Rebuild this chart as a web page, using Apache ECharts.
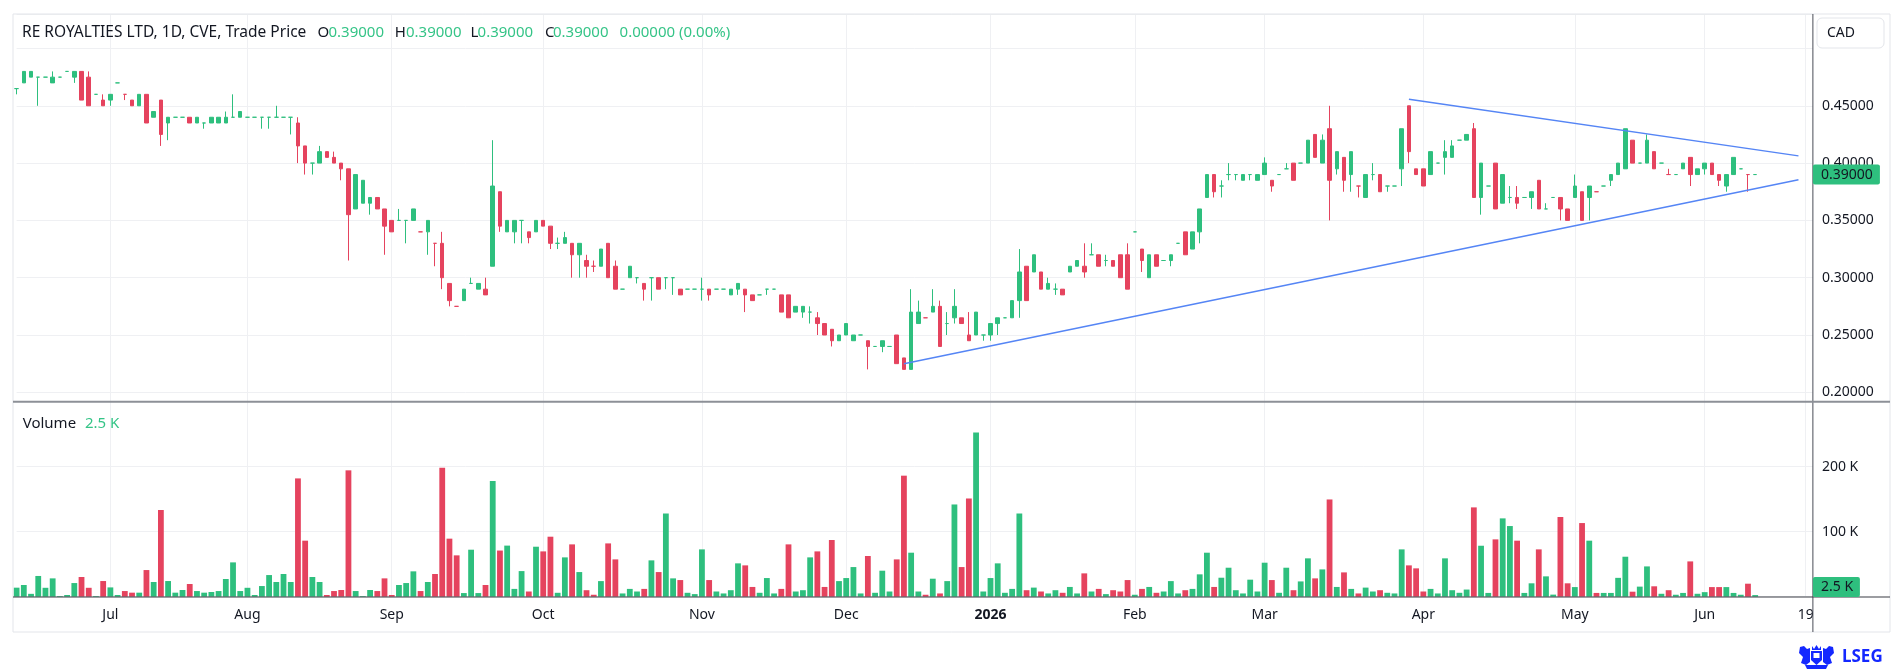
<!DOCTYPE html>
<html><head><meta charset="utf-8">
<script src="https://cdn.jsdelivr.net/npm/echarts@6/dist/echarts.min.js"></script>
<style>html,body{margin:0;padding:0;background:#fff}#c{width:1903px;height:671px}</style>
</head><body><div id="c"></div>
<script>
// ---- data ----
// one row per daily bar: [open, high, low, close]
const ohlc = [
[.465,.465,.46,.465],[.47,.48,.47,.48],[.475,.48,.475,.48],[.475,.475,.45,.475],[.475,.475,.475,.475],
[.47,.48,.47,.475],[.475,.475,.475,.475],[.48,.48,.48,.48],[.475,.48,.47,.48],[.48,.48,.455,.455],
[.475,.48,.45,.45],[.46,.46,.46,.46],[.455,.46,.45,.45],[.455,.46,.45,.46],[.47,.47,.47,.47],
[.46,.46,.455,.46],[.455,.455,.45,.45],[.45,.46,.45,.46],[.46,.46,.435,.435],[.44,.445,.44,.445],
[.455,.455,.415,.425],[.435,.44,.42,.44],[.44,.44,.44,.44],[.44,.44,.44,.44],[.44,.44,.435,.435],
[.435,.44,.435,.44],[.435,.435,.43,.435],[.435,.44,.435,.44],[.435,.44,.435,.44],[.435,.445,.435,.44],
[.44,.46,.44,.44],[.44,.445,.44,.445],[.44,.44,.44,.44],[.44,.44,.44,.44],[.44,.44,.43,.44],
[.44,.44,.43,.44],[.44,.45,.44,.44],[.44,.44,.44,.44],[.44,.44,.425,.44],[.435,.44,.40,.415],
[.415,.415,.39,.40],[.40,.40,.39,.40],[.40,.415,.40,.41],[.41,.41,.405,.405],[.405,.41,.40,.40],
[.40,.40,.385,.395],[.395,.395,.315,.355],[.36,.39,.36,.39],[.365,.385,.365,.385],[.365,.37,.355,.37],
[.37,.37,.36,.36],[.36,.36,.32,.345],[.35,.35,.34,.34],[.35,.36,.35,.35],[.35,.35,.33,.35],
[.35,.36,.35,.36],[.34,.34,.34,.34],[.34,.35,.32,.35],[.33,.33,.31,.33],[.33,.34,.29,.30],
[.295,.295,.275,.28],[.275,.275,.275,.275],[.28,.29,.28,.29],[.295,.30,.295,.295],[.29,.295,.29,.295],
[.29,.30,.285,.285],[.31,.42,.31,.38],[.375,.375,.34,.345],[.34,.35,.34,.35],[.34,.35,.33,.35],
[.35,.35,.33,.35],[.34,.34,.33,.335],[.34,.35,.34,.35],[.35,.35,.345,.345],[.345,.345,.325,.33],
[.33,.335,.325,.33],[.33,.34,.33,.335],[.33,.33,.30,.32],[.32,.33,.30,.33],[.315,.32,.30,.31],
[.31,.315,.305,.31],[.31,.325,.31,.325],[.33,.33,.30,.30],[.31,.315,.29,.29],[.29,.29,.29,.29],
[.30,.31,.30,.31],[.30,.30,.295,.30],[.295,.295,.28,.29],[.30,.30,.28,.30],[.30,.30,.29,.29],
[.30,.30,.29,.30],[.30,.30,.285,.30],[.29,.29,.285,.285],[.29,.29,.29,.29],[.29,.29,.29,.29],
[.29,.30,.28,.29],[.29,.29,.28,.285],[.29,.29,.29,.29],[.29,.29,.29,.29],[.285,.29,.285,.29],
[.29,.295,.285,.295],[.29,.29,.27,.285],[.285,.285,.28,.28],[.285,.285,.285,.285],[.29,.29,.285,.29],
[.29,.29,.29,.29],[.285,.285,.27,.27],[.285,.285,.265,.265],[.27,.275,.27,.275],[.27,.275,.265,.275],
[.27,.275,.26,.27],[.265,.27,.25,.26],[.26,.26,.25,.25],[.255,.255,.24,.245],[.245,.25,.245,.25],
[.25,.26,.25,.26],[.245,.25,.245,.25],[.25,.25,.25,.25],[.245,.245,.22,.24],[.24,.24,.24,.24],
[.24,.245,.235,.245],[.24,.24,.24,.24],[.25,.25,.225,.225],[.23,.23,.22,.22],[.22,.29,.22,.27],
[.26,.28,.26,.27],[.265,.265,.265,.265],[.27,.29,.27,.275],[.275,.28,.24,.24],[.26,.27,.25,.26],
[.265,.29,.26,.275],[.265,.265,.26,.26],[.25,.27,.245,.245],[.25,.27,.25,.27],[.25,.25,.245,.25],
[.25,.26,.245,.26],[.26,.265,.25,.265],[.265,.265,.265,.265],[.265,.28,.265,.28],[.28,.325,.265,.305],
[.31,.31,.28,.28],[.305,.32,.305,.32],[.305,.305,.29,.29],[.29,.30,.29,.295],[.29,.295,.285,.29],
[.29,.29,.285,.285],[.305,.31,.305,.31],[.31,.315,.31,.315],[.31,.33,.30,.305],[.32,.33,.32,.32],
[.32,.32,.31,.31],[.315,.32,.31,.315],[.315,.315,.31,.31],[.32,.32,.30,.30],[.32,.33,.29,.29],
[.34,.34,.34,.34],[.325,.325,.305,.315],[.30,.32,.30,.32],[.32,.32,.31,.31],[.315,.315,.315,.315],
[.315,.32,.31,.32],[.33,.33,.33,.33],[.34,.34,.32,.32],[.325,.34,.325,.34],[.34,.36,.33,.36],
[.37,.39,.37,.39],[.39,.39,.37,.375],[.38,.385,.37,.38],[.39,.40,.385,.39],[.39,.39,.385,.39],
[.385,.39,.385,.39],[.39,.39,.385,.39],[.385,.39,.385,.39],[.39,.405,.39,.40],[.385,.385,.375,.38],
[.39,.39,.39,.39],[.395,.40,.395,.395],[.40,.40,.385,.385],[.40,.40,.40,.40],[.40,.42,.40,.42],
[.425,.425,.405,.405],[.40,.425,.40,.42],[.43,.45,.35,.385],[.395,.41,.39,.41],[.405,.405,.375,.385],
[.39,.41,.375,.41],[.38,.38,.37,.38],[.37,.39,.37,.39],[.39,.40,.385,.39],[.39,.39,.375,.375],
[.38,.38,.375,.38],[.38,.38,.38,.38],[.395,.43,.38,.43],[.45,.45,.40,.41],[.395,.395,.39,.39],
[.395,.395,.38,.38],[.39,.41,.39,.41],[.40,.40,.40,.40],[.405,.42,.39,.41],[.405,.42,.405,.415],
[.42,.42,.42,.42],[.42,.425,.42,.425],[.43,.435,.37,.37],[.37,.40,.355,.40],[.38,.38,.38,.38],
[.40,.40,.36,.36],[.365,.39,.365,.39],[.37,.38,.365,.37],[.37,.38,.36,.365],[.37,.37,.37,.37],
[.37,.375,.36,.375],[.385,.385,.36,.36],[.36,.365,.36,.36],[.37,.37,.37,.37],[.37,.37,.35,.36],
[.36,.36,.35,.35],[.37,.39,.37,.38],[.375,.375,.35,.35],[.37,.38,.35,.38],[.375,.375,.375,.375],
[.38,.38,.38,.38],[.385,.39,.38,.39],[.39,.40,.39,.40],[.395,.43,.395,.43],[.42,.42,.40,.40],
[.40,.40,.40,.40],[.40,.425,.40,.42],[.41,.41,.395,.395],[.40,.40,.40,.40],[.39,.395,.39,.39],
[.39,.39,.39,.39],[.395,.40,.395,.40],[.405,.405,.38,.39],[.39,.395,.39,.395],[.395,.40,.39,.40],
[.40,.40,.39,.39],[.39,.39,.38,.385],[.38,.39,.375,.39],[.39,.405,.39,.405],[.395,.395,.395,.395],
[.39,.39,.375,.39],[.39,.39,.39,.39]
];
// volume per bar, thousands of shares
const volumesK = [
13.9,18,4.4,31.9,13.7,28.2,1,2.6,21,30.3,
13.7,1,24.1,14.3,2.6,8.7,6.2,6.2,41,22.6,
133.4,24.1,6.2,10.3,19.5,8.7,6.2,7.2,8.7,27.2,
52.8,8.7,13.7,2.6,16.4,33.3,22.6,34.9,22.6,182,
86.2,30.3,22.6,2.6,8.7,10.3,194.4,8.7,1,10.3,
8.7,28.2,2.6,18,21,39,8.7,22.6,34.9,198.5,
89.3,63.6,5.6,72.3,5.6,18,178,71,78.6,12,
39.4,8,76.9,69.7,92.3,6,60.5,80.5,37.9,10,
3,24,82,57.4,5,12,8,12,55.9,37.9,
128,28.2,25.6,6,4,72.8,25.6,8,5,10,
51.3,48.2,15,6,28.7,5,12,80.5,8,10,
60.5,69.7,15,87.2,24,28.7,45.6,5,62.6,6,
40,8,57.4,186.2,67.7,8,3,27.7,5,24,
141.9,45.6,151.1,252.6,8,28.7,51.3,6,12,128,
10,14,8,5,10,6,15,5,35.9,8,
12,4,10,8,25.6,3,12,15,6,8,
24,5,10,12,34.4,67.7,15,29.2,44.6,10,
5,26.2,8,52.3,25.6,6,44.6,10,23.5,59,
28.2,42,149.6,15,37.4,12,5,14,8,10,
6,5,72.8,48.2,43.6,8,12,5,59,10,
6,11,137.4,78.4,5.8,88.2,120.5,108.7,86.2,5.8,
20.6,72.8,31.3,3.2,122.6,20.6,14.8,113.3,86.2,5.8,
5.8,5.8,29,61.5,7.7,15.5,46.6,16,4.5,10,
3,5.8,54.3,4.5,7,14.8,14.8,14.8,5.8,3,
20,2.5
];
// bars with open == close that are drawn red in the picture
const redDoji = [15, 56, 58, 61, 80, 126, 186, 219, 229, 240];
// time-axis tick labels: [bar slot, label]
const monthTicks = [[13,'Jul'],[32,'Aug'],[52,'Sep'],[73,'Oct'],[95,'Nov'],[115,'Dec'],[135,'2026'],
  [155,'Feb'],[173,'Mar'],[195,'Apr'],[216,'May'],[234,'Jun'],[248,'19']];
// drawn trend lines: [bar slot, price]
const upperTrend = [[193, 0.4558], [247, 0.4063]];
const lowerTrend = [[123, 0.2249], [247, 0.3855]];
const SLOTS = 250; // bar slots on the time axis (incl. empty future space)
const title = 'RE ROYALTIES LTD, 1D, CVE, Trade Price';

// ---- styling ----
const UP = '#2ebf7e', DOWN = '#e5435e', TXT = '#131722', GRID = '#eff0f3', FONT = '"Noto Sans", sans-serif';
const slots = Array.from({length: SLOTS}, (_, i) => String(i));
const tickMap = new Map(monthTicks);
const isUp = i => { const r = ohlc[i]; return r[3] > r[0] || (r[3] === r[0] && !redDoji.includes(i)); };
const candleData = ohlc.map((r, i) => {
  const c = isUp(i) ? UP : DOWN;
  return { value: [r[0], r[3], r[2], r[1]], itemStyle: { color: c, color0: c, borderColor: c, borderColor0: c, borderColorDoji: c } };
});
const volData = volumesK.map((v, i) => ({ value: v * 1000, itemStyle: { color: isUp(i) ? UP : DOWN } }));

const L = 16.6, R = 1903 - 1812.9;
const xBase = (gi, showLabels) => ({
  type: 'category', gridIndex: gi, data: slots, boundaryGap: false,
  axisLine: { show: false }, axisTick: { show: false },
  splitLine: { show: true, interval: (i) => tickMap.has(i), lineStyle: { color: GRID, width: 1 } },
  axisLabel: showLabels ? {
    show: true, interval: (i) => tickMap.has(i), margin: 11,
    formatter: (v, i) => { const t = tickMap.get(Number(v)); return t === '2026' ? '{b|2026}' : (t || ''); },
    color: TXT, fontSize: 14, fontFamily: FONT,
    rich: { b: { fontWeight: 'bold', fontSize: 14, color: TXT, fontFamily: FONT } }
  } : { show: false }
});

const chart = echarts.init(document.getElementById('c'), null, { renderer: 'canvas' });
chart.setOption({
  animation: false,
  backgroundColor: '#ffffff',
  grid: [
    { left: L, right: R, top: 14, height: 387.7 },
    { left: L, right: R, top: 401.7, height: 195 }
  ],
  xAxis: [xBase(0, false), xBase(1, true)],
  yAxis: [
    { type: 'value', gridIndex: 0, position: 'right', min: 0.1918, max: 0.5301, splitNumber: 7,
      minInterval: 0.05, maxInterval: 0.05,
      axisLine: { show: false }, axisTick: { show: false },
      splitLine: { lineStyle: { color: GRID } },
      axisLabel: { margin: 9, color: TXT, fontSize: 14, fontFamily: FONT, showMinLabel: false, showMaxLabel: false,
        formatter: v => (v < 0.195 || v > 0.48) ? '' : v.toFixed(5) } },
    { type: 'value', gridIndex: 1, position: 'right', min: 0, max: 300000, interval: 100000,
      axisLine: { show: false }, axisTick: { show: false },
      splitLine: { lineStyle: { color: GRID } },
      axisLabel: { margin: 9, color: TXT, fontSize: 14, fontFamily: FONT,
        formatter: v => (v === 100000 || v === 200000) ? (v / 1000) + ' K' : '' } }
  ],
  series: [
    { type: 'candlestick', xAxisIndex: 0, yAxisIndex: 0, data: candleData, barWidth: 4, clip: false,
      itemStyle: { borderWidth: 1 } },
    { type: 'line', xAxisIndex: 0, yAxisIndex: 0, data: upperTrend, symbol: 'none', z: 5,
      lineStyle: { color: '#5585f5', width: 1.5 } },
    { type: 'line', xAxisIndex: 0, yAxisIndex: 0, data: lowerTrend, symbol: 'none', z: 5,
      lineStyle: { color: '#5585f5', width: 1.5 } },
    { type: 'bar', xAxisIndex: 1, yAxisIndex: 1, data: volData, barWidth: 5.8, clip: false }
  ]
});

// ---- chrome: frame, separators, legends, last-value labels ----
const last = ohlc[ohlc.length - 1];
const prevClose = ohlc[ohlc.length - 2][3];
const chg = last[3] - prevClose;
const f5 = v => v.toFixed(5);
const lastUp = isUp(ohlc.length - 1);
const valCol = lastUp ? '#35c487' : DOWN;
const lastVol = volumesK[volumesK.length - 1];
const axisX = 1812.9;
const yPrice = chart.convertToPixel({ yAxisIndex: 0 }, last[3]);
const yVolRaw = chart.convertToPixel({ yAxisIndex: 1 }, lastVol * 1000);
const yVol = Math.min(yVolRaw, 597 - 10);
const txt = (x, y, s, fill, size, weight) => ({ type: 'text', x, y, z: 50,
  style: { text: s, fill, font: (weight || 'normal') + ' ' + (size || 15) + 'px ' + FONT, verticalAlign: 'middle', align: 'left' } });
const line = (x1, y1, x2, y2, stroke, w) => ({ type: 'line', z: 40, shape: { x1, y1, x2, y2 }, style: { stroke, lineWidth: w } });
const BLUE = '#1428ff';
const poly = pts => ({ type: 'polygon', z: 50, shape: { points: pts }, style: { fill: BLUE } });

chart.setOption({ graphic: [
  { type: 'rect', z: 39, shape: { x: 13, y: 14, width: 1877, height: 618 }, style: { fill: 'none', stroke: '#e3e5ea', lineWidth: 1 } },
  line(axisX, 14, axisX, 632, '#4a4d57', 1),
  line(13, 401.7, 1890, 401.7, '#8d9097', 2),
  line(13, 597, 1890, 597, '#3a3d45', 1.2),
  txt(22, 33, title, TXT, 15.5),
  txt(317.5, 33, 'O', TXT), txt(328.5, 33, f5(last[0]), valCol),
  txt(394.7, 33, 'H', TXT), txt(406, 33, f5(last[1]), valCol),
  txt(470.6, 33, 'L', TXT), txt(477.6, 33, f5(last[2]), valCol),
  txt(545, 33, 'C', TXT), txt(553, 33, f5(last[3]), valCol),
  txt(619.6, 33, f5(chg) + ' (' + (chg / prevClose * 100).toFixed(2) + '%)', valCol),
  txt(22.7, 423.3, 'Volume', TXT), txt(85, 423.3, lastVol.toFixed(1) + ' K', valCol),
  { type: 'rect', z: 45, shape: { x: 1817, y: 18, width: 67, height: 30, r: 5 }, style: { fill: '#fff', stroke: '#e3e5ea', lineWidth: 1 } },
  txt(1827, 33, 'CAD', TXT, 14),
  { type: 'rect', z: 45, shape: { x: axisX, y: yPrice - 10, width: 67, height: 20, r: 2 }, style: { fill: lastUp ? UP : DOWN } },
  txt(1821, yPrice, f5(last[3]), TXT, 14),
  { type: 'rect', z: 45, shape: { x: axisX, y: yVol - 10, width: 47, height: 20, r: 2 }, style: { fill: lastUp ? UP : DOWN } },
  txt(1821, yVol, lastVol.toFixed(1) + ' K', TXT, 14),
  // LSEG crest (rough) + wordmark
  poly([[1800,647],[1804,646],[1807,649],[1810,648],[1810,662],[1806,665],[1801,663],[1803,657],[1799,653]]),
  poly([[1833,647],[1829,646],[1826,649],[1823,648],[1823,662],[1827,665],[1832,663],[1830,657],[1834,653]]),
  poly([[1811,651],[1822,651],[1822,660],[1816.5,665],[1811,660]]),
  poly([[1812,646],[1814,649],[1816.5,645],[1819,649],[1821,646],[1821,650],[1812,650]]),
  poly([[1805,665],[1828,665],[1826,669],[1807,669]]),
  { type: 'rect', z: 51, shape: { x: 1813.5, y: 653, width: 6, height: 5 }, style: { fill: '#fff' } },
  txt(1842, 657, 'LSEG', BLUE, 17, 'bold')
]});
</script>
</body></html>
